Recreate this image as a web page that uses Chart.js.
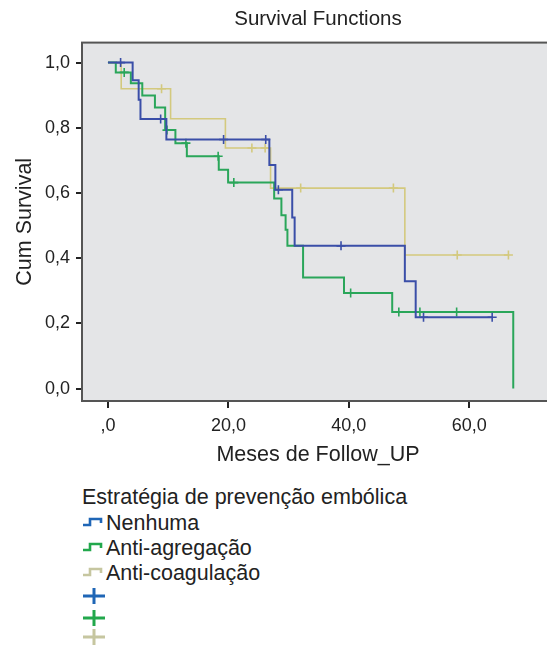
<!DOCTYPE html>
<html>
<head>
<meta charset="utf-8">
<title>Survival Functions</title>
<script src="https://cdn.jsdelivr.net/npm/chart.js@4.4.0/dist/chart.umd.min.js"></script>
<style>
  body { margin: 0; background: #fff; font-family: "Liberation Sans", Arial, sans-serif; color: #222; }
  #wrap { position: relative; width: 547px; height: 645px; overflow: hidden; }
  #grafico { position: absolute; left: 0; top: 0; }
  .leg { position: absolute; left: 82px; height: 24px; line-height: 24px; font-size: 21.5px; white-space: nowrap; }
  .leg svg { vertical-align: middle; margin-right: 2px; position: relative; top: -2px; }
</style>
</head>
<body>
<div id="wrap">
  <!-- a área do gráfico original passa da borda direita da imagem -->
  <canvas id="grafico" width="560" height="480"></canvas>
  <div id="legenda"></div>
</div>
<script>
// --- dados ---
const SERIES_NAMES = ['Nenhuma', 'Anti-agregação', 'Anti-coagulação'];
const LEGEND_TITLE = 'Estratégia de prevenção embólica';

// Nenhuma (azul): tempos dos eventos e sobrevida acumulada depois do evento
const NENHUMA_T = [0, 4.1, 5.1, 5.4, 9.7, 26.8, 27.8, 30.6, 31.0, 49.3, 51.1, 63.8];
const NENHUMA_S = [1.0, 0.946, 0.886, 0.827, 0.764, 0.686, 0.610, 0.525, 0.438, 0.329, 0.219, 0.219];
const NENHUMA_CENS_T = [2.1, 8.75, 19.2, 26.2, 28.3, 38.7, 52.4, 63.8];
const NENHUMA_CENS_S = [1.0, 0.827, 0.764, 0.764, 0.610, 0.438, 0.219, 0.219];

// Anti-agregação (verde)
const AGREG_T = [0, 1.3, 3.8, 5.7, 7.8, 9.5, 11.2, 13.1, 18.4, 19.95, 27.6, 28.8, 29.5, 29.8, 32.4, 39.2, 47.2, 67.3];
const AGREG_S = [1.0, 0.970, 0.937, 0.899, 0.862, 0.793, 0.753, 0.713, 0.671, 0.632, 0.583, 0.532, 0.487, 0.438, 0.341, 0.293, 0.235, 0.0];
const AGREG_CENS_T = [2.7, 9.8, 12.95, 18.3, 20.9, 40.3, 48.3, 51.8, 57.9];
const AGREG_CENS_S = [0.970, 0.793, 0.753, 0.713, 0.632, 0.293, 0.235, 0.235, 0.235];

// Anti-coagulação (amarelo)
const COAG_T = [0, 2.2, 10.4, 19.5, 27.0, 49.3, 66.5];
const COAG_S = [1.0, 0.920, 0.828, 0.738, 0.615, 0.410, 0.410];
const COAG_CENS_T = [8.9, 23.9, 26.1, 32.0, 47.4, 58.0, 66.5];
const COAG_CENS_S = [0.920, 0.738, 0.738, 0.615, 0.615, 0.410, 0.410];

const X_TICKS = [0, 20, 40, 60];
const X_TICK_LABELS = [',0', '20,0', '40,0', '60,0'];
const Y_TICKS = [0, 0.2, 0.4, 0.6, 0.8, 1.0];
const Y_TICK_LABELS = ['0,0', '0,2', '0,4', '0,6', '0,8', '1,0'];

// cores
const LINE_COLORS = ['#3a4ea8', '#2aa65a', '#d3c97e'];
const LEGEND_COLORS = ['#1f66b6', '#22a84c', '#c6c6a0'];
const FONT = '"Liberation Sans", Arial, sans-serif';

function toPoints(ts, ss) {
    return ts.map((t, i) => ({ x: t, y: ss[i] }));
}

// fundo cinza e moldura da área do gráfico
const plotBox = {
    id: 'plotBox',
    beforeDatasetsDraw(chart) {
        const { ctx, chartArea: a } = chart;
        ctx.save();
        ctx.fillStyle = '#e4e5e7';
        ctx.fillRect(a.left, a.top, a.right - a.left, a.bottom - a.top);
        ctx.strokeStyle = '#555';
        ctx.lineWidth = 2;
        ctx.strokeRect(a.left, a.top, a.right - a.left, a.bottom - a.top);
        ctx.restore();
    }
};

function stepSet(label, ts, ss, color, width, order) {
    return {
        label: label,
        data: toPoints(ts, ss),
        borderColor: color,
        borderWidth: width,
        stepped: 'before',
        pointRadius: 0,
        fill: false,
        order: order
    };
}

function censorSet(label, ts, ss, color, order) {
    return {
        label: label,
        data: toPoints(ts, ss),
        showLine: false,
        pointStyle: 'cross',
        pointRadius: 4.5,
        pointBorderWidth: 1.6,
        pointBorderColor: color,
        borderColor: color,
        order: order
    };
}

new Chart(document.getElementById('grafico'), {
    type: 'line',
    data: {
        datasets: [
            stepSet(SERIES_NAMES[0], NENHUMA_T, NENHUMA_S, LINE_COLORS[0], 2, 2),
            stepSet(SERIES_NAMES[1], AGREG_T, AGREG_S, LINE_COLORS[1], 2, 4),
            stepSet(SERIES_NAMES[2], COAG_T, COAG_S, LINE_COLORS[2], 1.6, 6),
            censorSet(SERIES_NAMES[0] + ' censored', NENHUMA_CENS_T, NENHUMA_CENS_S, LINE_COLORS[0], 1),
            censorSet(SERIES_NAMES[1] + ' censored', AGREG_CENS_T, AGREG_CENS_S, LINE_COLORS[1], 3),
            censorSet(SERIES_NAMES[2] + ' censored', COAG_CENS_T, COAG_CENS_S, LINE_COLORS[2], 5)
        ]
    },
    options: {
        responsive: false,
        animation: false,
        layout: { padding: 0 },
        plugins: {
            legend: { display: false },
            tooltip: { enabled: false },
            title: {
                display: true,
                text: 'Survival Functions',
                fullSize: false,
                color: '#222',
                font: { family: FONT, size: 20.5, weight: 'normal' },
                padding: { top: 7, bottom: 11 }
            }
        },
        scales: {
            x: {
                type: 'linear',
                min: -4.31,
                max: 74.05,
                afterFit: s => { s.height = 79; },
                afterBuildTicks: s => { s.ticks = X_TICKS.map(v => ({ value: v })); },
                ticks: {
                    color: '#222',
                    padding: 7,
                    maxRotation: 0,
                    font: { family: FONT, size: 18 },
                    callback: (v, i) => X_TICK_LABELS[i]
                },
                grid: { drawOnChartArea: false, drawTicks: true, tickLength: 7, color: '#222', lineWidth: 2 },
                border: { display: false },
                title: {
                    display: true,
                    text: 'Meses de Follow_UP',
                    color: '#222',
                    font: { family: FONT, size: 21.5 },
                    padding: { top: 0, bottom: 12 }
                }
            },
            y: {
                min: -0.038,
                max: 1.0614,
                afterFit: s => { s.width = 82; },
                afterBuildTicks: s => { s.ticks = Y_TICKS.map(v => ({ value: v })); },
                ticks: {
                    color: '#222',
                    padding: 6,
                    font: { family: FONT, size: 18 },
                    callback: (v, i) => Y_TICK_LABELS[i]
                },
                grid: { drawOnChartArea: false, drawTicks: true, tickLength: 6, color: '#222', lineWidth: 2 },
                border: { display: false },
                title: {
                    display: true,
                    text: 'Cum Survival',
                    color: '#222',
                    font: { family: FONT, size: 21.5 },
                    padding: { top: 12, bottom: 0 }
                }
            }
        }
    },
    plugins: [plotBox]
});

// --- legenda (HTML) ---
function stepIcon(color) {
    return `<svg width="22" height="12"><path d="M1 9 H8 V3 H19 V7" stroke="${color}" stroke-width="2.6" fill="none"/></svg>`;
}
function crossIcon(color) {
    return `<svg width="24" height="18"><path d="M1 9 H23 M12 1 V17" stroke="${color}" stroke-width="3" fill="none"/></svg>`;
}

const legenda = document.getElementById('legenda');
const LEGEND_ROWS = [497, 523, 548, 573, 597, 619, 638];
let html = `<div class="leg" style="top:${LEGEND_ROWS[0] - 12}px">${LEGEND_TITLE}</div>`;
SERIES_NAMES.forEach((nome, i) => {
    html += `<div class="leg" style="top:${LEGEND_ROWS[i + 1] - 12}px">${stepIcon(LEGEND_COLORS[i])}${nome}</div>`;
});
SERIES_NAMES.forEach((nome, i) => {
    html += `<div class="leg" style="top:${LEGEND_ROWS[i + 4] - 12}px">${crossIcon(LEGEND_COLORS[i])}</div>`;
});
legenda.innerHTML = html;
</script>
</body>
</html>
